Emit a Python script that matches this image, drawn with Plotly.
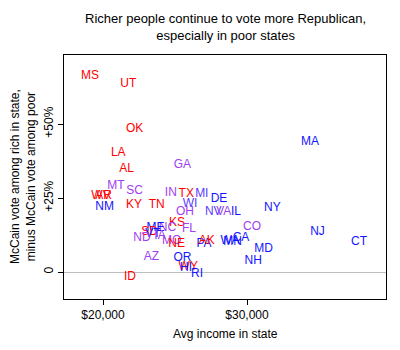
import plotly.graph_objects as go

states = ["MS", "UT", "OK", "LA", "AL", "GA", "MT", "SC", "WV", "AR", "NM", "KY", "TN",
          "IN", "TX", "MI", "DE", "WI", "OH", "NV", "VA", "IL", "NY", "MA", "CO", "NJ",
          "CT", "KS", "NC", "FL", "ME", "SD", "VT", "IA", "ND", "MO", "NE", "PA", "AK",
          "WA", "MN", "CA", "MD", "AZ", "OR", "NH", "WY", "HI", "RI", "ID"]
income = [19097, 21757, 22201, 21062, 21646, 25507, 20903, 22201, 19861, 20035, 20118, 22153, 23729,
          24708, 25784, 26861, 28055, 26041, 25694, 27659, 28381, 29236, 31757, 34374, 30347, 34895,
          37777, 25139, 24479, 25972, 23646, 23229, 23472, 23958, 22708, 24771, 25118, 27013, 27201,
          28819, 28993, 29583, 31145, 23368, 25520, 30430, 25923, 25764, 26528, 21875]
rich_minus_poor = [66.3, 63.5, 48.3, 40.1, 34.7, 36.0, 29.2, 27.5, 25.7, 25.8, 22.1, 22.6, 22.6,
                   26.8, 26.3, 26.3, 24.6, 22.9, 20.2, 20.4, 20.4, 20.4, 21.8, 44.0, 15.1, 13.6,
                   10.2, 16.6, 14.9, 14.4, 14.8, 13.4, 12.8, 12.2, 11.4, 10.5, 9.5, 9.5, 10.5,
                   10.5, 10.2, 11.5, 7.7, 5.0, 4.6, 3.6, 1.8, 1.5, -0.7, -1.7]

R, P, B, BP = "#FF0000", "#A040F0", "#1414FF", "#5A3CFF"
state_colors = {
    "MS": R, "UT": R, "OK": R, "LA": R, "AL": R, "GA": P, "MT": P, "SC": P, "WV": R, "AR": R,
    "NM": B, "KY": R, "TN": R, "IN": P, "TX": R, "MI": BP, "DE": B, "WI": BP, "OH": P,
    "NV": BP, "VA": P, "IL": B, "NY": B, "MA": B, "CO": P, "NJ": B, "CT": B, "KS": R,
    "NC": P, "FL": P, "ME": B, "SD": R, "VT": B, "IA": P, "ND": P, "MO": P, "NE": R,
    "PA": B, "AK": R, "WA": B, "MN": B, "CA": B, "MD": B, "AZ": P, "OR": B, "NH": B,
    "WY": R, "HI": B, "RI": B, "ID": R,
}
colors = [state_colors[s] for s in states]

x_ticks = [20000, 30000]
x_ticklabels = ["$20,000", "$30,000"]
y_ticks = [0, 25, 50]
y_ticklabels = ["0", "+25%", "+50%"]

FONT = "Liberation Sans, Arial, sans-serif"

fig = go.Figure()
fig.add_trace(go.Scatter(
    x=income, y=rich_minus_poor, mode="text", text=states,
    textposition="middle center",
    textfont=dict(family=FONT, size=12, color=colors),
    hoverinfo="skip", showlegend=False,
))

fig.update_layout(
    width=400, height=350,
    margin=dict(l=64, r=14, t=55, b=51),
    paper_bgcolor="white", plot_bgcolor="white",
    font=dict(family=FONT, size=12, color="#000000"),
    xaxis=dict(
        range=[17292, 39652], tickvals=x_ticks, ticktext=x_ticklabels,
        showgrid=False, zeroline=False, showline=True, mirror=True,
        linecolor="black", linewidth=1, ticks="outside", ticklen=5,
        tickcolor="black", tickfont=dict(size=12, color="black"),
    ),
    yaxis=dict(
        range=[-9.1, 73.3], tickvals=y_ticks, ticktext=y_ticklabels,
        showgrid=False, zeroline=True, zerolinecolor="#BEBEBE", zerolinewidth=1,
        showline=True, mirror=True, linecolor="black", linewidth=1,
        ticks="outside", ticklen=5, tickcolor="black", tickangle=-90,
        tickfont=dict(size=12, color="black"),
    ),
    annotations=[
        dict(text="Richer people continue to vote more Republican,<br>especially in poor states",
             xref="paper", yref="paper", x=0.5, y=1 + (55 - 27) / 243,
             xanchor="center", yanchor="middle", showarrow=False,
             font=dict(size=13, color="black")),
        dict(text="Avg income in state", xref="paper", yref="paper",
             x=0.5, y=-(334 - 299) / 244, xanchor="center", yanchor="middle",
             showarrow=False, font=dict(size=12, color="black")),
        dict(text="McCain vote among rich in state,<br>minus McCain vote among poor",
             xref="paper", yref="paper", x=(23 - 64) / 322, y=0.5, textangle=-90,
             xanchor="center", yanchor="middle", showarrow=False,
             font=dict(size=12, color="black")),
    ],
)

fig.write_html("out.html")
